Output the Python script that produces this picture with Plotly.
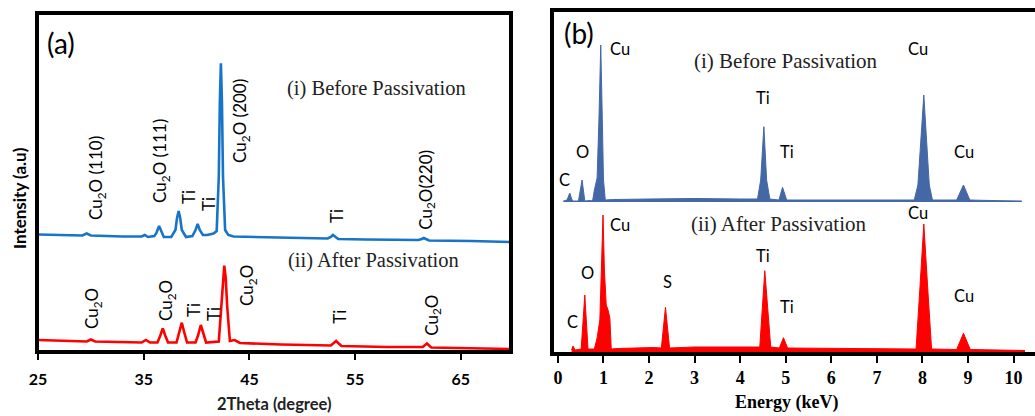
import plotly.graph_objects as go

W, H = 1035, 416

# ---------------- Panel (a): XRD ----------------
xrd_theta_before = [25.0, 27.0, 29.2, 29.6, 30.0, 33.0, 34.8, 35.1, 35.4, 36.0, 36.2, 36.45, 36.7, 36.9,
                    37.6, 38.0, 38.15, 38.3, 38.45, 38.6, 39.0, 39.6, 39.9, 40.1, 40.3, 40.6, 41.0, 41.6,
                    41.9, 42.1, 42.2, 42.3, 42.4, 42.5, 42.7, 43.0, 43.5, 45.0, 50.0, 52.4, 52.7, 52.9,
                    53.1, 53.4, 56.0, 61.0, 61.3, 61.5, 61.7, 62.0, 66.0, 69.7]
xrd_int_before = [117.5, 117.0, 116.5, 118.5, 116.5, 115.5, 115.5, 117.0, 115.0, 116.0, 119.0, 126.0, 119.0, 115.0,
                  115.0, 122.0, 134.0, 141.0, 134.0, 122.0, 115.0, 116.0, 122.0, 128.0, 122.0, 117.0, 117.0, 118.5,
                  121.0, 175.0, 250.0, 288.7, 250.0, 175.0, 122.0, 117.0, 115.5, 115.0, 114.0, 113.5, 115.0, 117.0,
                  115.0, 113.0, 112.5, 112.0, 113.0, 114.0, 113.0, 111.5, 111.0, 110.0]

xrd_theta_after = [25.0, 28.0, 29.6, 30.0, 30.4, 34.8, 35.2, 35.6, 36.3, 36.55, 36.8, 37.05, 37.3,
                   38.1, 38.35, 38.6, 38.85, 39.1, 39.9, 40.15, 40.4, 40.65, 40.9, 42.1, 42.35, 42.5,
                   42.62, 42.75, 42.9, 43.15, 43.6, 44.1, 48.0, 52.7, 53.2, 53.7, 58.0, 61.4, 61.8,
                   62.2, 66.0, 69.7]
xrd_int_after = [12.0, 11.0, 10.5, 12.5, 10.5, 9.5, 12.0, 9.5, 9.5, 16.0, 23.7, 16.0, 9.5,
                 9.5, 19.0, 29.3, 19.0, 9.5, 9.5, 17.0, 27.0, 17.0, 9.5, 10.5, 45.0, 75.0,
                 86.3, 75.0, 45.0, 11.0, 12.0, 9.0, 7.5, 6.5, 11.0, 6.0, 5.0, 5.0, 8.5,
                 4.5, 3.5, 3.0]

xrd_ticks = [25, 35, 45, 55, 65]

# peak labels (2theta, intensity position, text)
xrd_labels_before = [
    (30.58, 174, "Cu<sub>2</sub>O (110)"),
    (36.63, 191, "Cu<sub>2</sub>O (111)"),
    (39.18, 155, "Ti"),
    (41.08, 148, "Ti"),
    (44.20, 231, "Cu<sub>2</sub>O (200)"),
    (53.18, 136, "Ti"),
    (61.78, 162, "Cu<sub>2</sub>O(220)"),
]
xrd_labels_after = [
    (30.20, 43, "Cu<sub>2</sub>O"),
    (37.20, 52, "Cu<sub>2</sub>O"),
    (39.66, 42, "Ti"),
    (41.55, 38, "Ti"),
    (44.86, 67, "Cu<sub>2</sub>O"),
    (53.46, 35, "Ti"),
    (62.35, 37, "Cu<sub>2</sub>O"),
]

# ---------------- Panel (b): EDS ----------------
eds_e_before = [0.12, 0.20, 0.26, 0.31, 0.34, 0.45, 0.53, 0.59, 0.70, 0.76, 0.80, 0.86, 0.90, 0.94,
                0.97, 1.00, 1.04, 1.2, 2.0, 3.0, 4.0, 4.38, 4.45, 4.52, 4.58, 4.65, 4.85, 4.93, 5.02,
                5.5, 7.0, 7.82, 7.90, 7.97, 8.03, 8.09, 8.15, 8.22, 8.75, 8.90, 9.04, 9.5, 10.18]
eds_c_before = [1.0, 2.0, 9.0, 2.0, 1.0, 1.0, 22.0, 1.0, 1.5, 1.0, 12.0, 24.0, 82.0, 157.0,
                92.0, 22.0, 2.0, 2.5, 3.0, 3.5, 3.0, 3.0, 22.0, 75.3, 22.0, 3.0, 2.0, 14.7, 2.0,
                2.0, 2.0, 2.0, 17.0, 62.0, 107.0, 62.0, 17.0, 2.0, 2.0, 17.0, 2.0, 1.5, 1.0]

eds_e_after = [0.30, 0.33, 0.38, 0.51, 0.59, 0.66, 0.80, 0.86, 0.92, 0.96, 0.99, 1.02, 1.06, 1.10,
               1.14, 1.17, 1.3, 2.1, 2.27, 2.36, 2.45, 3.0, 4.3, 4.43, 4.54, 4.67, 4.86, 4.95, 5.04,
               6.0, 7.75, 7.86, 7.95, 8.03, 8.11, 8.20, 8.75, 8.90, 9.05, 10.25]
eds_c_after = [4.0, 8.0, 4.0, 5.0, 59.0, 5.0, 5.0, 16.0, 34.0, 94.0, 139.0, 84.0, 49.0, 44.0,
               36.0, 5.0, 5.5, 6.5, 6.0, 46.7, 6.0, 7.0, 6.5, 7.0, 83.3, 7.0, 6.0, 16.3, 6.0,
               5.5, 5.0, 5.0, 70.0, 130.0, 70.0, 5.0, 4.5, 20.7, 4.5, 3.5]

eds_ticks = list(range(0, 11))

eds_labels_before = [(0.15, 174, "C"), (0.53, 202, "O"), (1.36, 305, "Cu"), (4.50, 256, "Ti"),
                     (5.03, 202, "Ti"), (7.90, 305, "Cu"), (8.91, 202, "Cu")]
eds_labels_after = [(0.33, 32, "C"), (0.64, 81, "O"), (1.36, 129, "Cu"), (2.41, 72, "S"),
                    (4.50, 98, "Ti"), (5.03, 47, "Ti"), (7.90, 141, "Cu"), (8.91, 58, "Cu")]

BLUE_XRD = "#1874C6"
RED = "#FF0000"
BLUE_EDS = "#4468A6"

fig = go.Figure()
fig.add_trace(go.Scatter(x=xrd_theta_before, y=xrd_int_before, mode="lines",
                         line=dict(color=BLUE_XRD, width=2.6), xaxis="x", yaxis="y", showlegend=False))
fig.add_trace(go.Scatter(x=xrd_theta_after, y=xrd_int_after, mode="lines",
                         line=dict(color=RED, width=2.6), xaxis="x", yaxis="y", showlegend=False))
fig.add_trace(go.Scatter(x=eds_e_after, y=eds_c_after, mode="lines", fill="tozeroy",
                         fillcolor=RED, line=dict(color=RED, width=1), xaxis="x2", yaxis="y2",
                         showlegend=False))
fig.add_trace(go.Scatter(x=eds_e_before, y=eds_c_before, mode="lines", fill="tozeroy",
                         fillcolor=BLUE_EDS, line=dict(color=BLUE_EDS, width=1), xaxis="x2", yaxis="y3",
                         showlegend=False))

def px(x):
    return x / W

def py(y):
    return 1 - y / H

SANS = "Lato"
SERIF = "Liberation Serif"

fig.update_layout(
    width=W, height=H, margin=dict(l=0, r=0, t=0, b=0, autoexpand=False), autosize=False,
    paper_bgcolor="white", plot_bgcolor="white",
    xaxis=dict(domain=[px(37), px(511)], range=[24.9, 69.75], tickvals=xrd_ticks,
               ticks="outside", ticklen=7, tickwidth=2, tickcolor="black",
               showgrid=False, zeroline=False, showline=False, ticklabelstandoff=6,
               tickfont=dict(family=SANS, size=16, color="black", weight="bold"), anchor="y",
               automargin=False),
    yaxis=dict(domain=[py(352), py(13)], range=[0, 339], visible=False, anchor="x"),
    xaxis2=dict(domain=[px(552), 1.0], range=[-0.13, 10.47], tickvals=eds_ticks,
                ticks="outside", ticklen=8, tickwidth=2, tickcolor="black",
                showgrid=False, zeroline=False, showline=False, ticklabelstandoff=-1,
                tickfont=dict(family=SERIF, size=18, color="black", weight="bold"), anchor="y2",
                automargin=False),
    yaxis2=dict(domain=[py(354), py(10)], range=[0, 344], visible=False, anchor="x2"),
    yaxis3=dict(overlaying="y2", range=[-152, 192], visible=False, anchor="x2"),
)

shapes = []
# frame (a)
shapes.append(dict(type="rect", xref="paper", yref="paper", x0=px(37), x1=px(511), y0=py(352), y1=py(13),
                   line=dict(color="black", width=4), layer="above"))
# frame (b): left, top, bottom
for (x0, y0, x1, y1) in [(552, 10, 552, 354), (550, 10, 1035, 10), (550, 354, 1035, 354)]:
    shapes.append(dict(type="line", xref="paper", yref="paper", x0=px(x0), x1=px(x1), y0=py(y0), y1=py(y1),
                       line=dict(color="black", width=4), layer="above"))
fig.update_layout(shapes=shapes)

ann = []
for (x, y, t) in xrd_labels_before + xrd_labels_after:
    ann.append(dict(x=x, y=y, xref="x", yref="y", text=t, showarrow=False, textangle=-90,
                    xanchor="center", yanchor="middle", font=dict(family=SANS, size=17, color="black")))
ann.append(dict(x=57.06, y=264, xref="x", yref="y", text="(i) Before Passivation", showarrow=False,
                xanchor="center", yanchor="middle", font=dict(family=SERIF, size=20.5, color="#222222")))
ann.append(dict(x=56.7, y=92, xref="x", yref="y", text="(ii) After Passivation", showarrow=False,
                xanchor="center", yanchor="middle", font=dict(family=SERIF, size=20.5, color="#222222")))
ann.append(dict(x=27.2, y=309, xref="x", yref="y", text="(a)", showarrow=False,
                xanchor="center", yanchor="middle", font=dict(family=SANS, size=28, color="black")))
ann.append(dict(x=px(274), y=py(404), xref="paper", yref="paper", text="2Theta (degree)", showarrow=False,
                xanchor="center", yanchor="middle",
                font=dict(family=SANS, size=16.5, color="#222222", weight="bold")))
ann.append(dict(x=px(19), y=py(198), xref="paper", yref="paper", text="Intensity (a.u)", showarrow=False,
                xanchor="center", yanchor="middle",
                textangle=-90, font=dict(family=SANS, size=17, color="black", weight="bold")))

for (x, y, t) in eds_labels_before + eds_labels_after:
    ann.append(dict(x=x, y=y, xref="x2", yref="y2", text=t, showarrow=False,
                    xanchor="center", yanchor="middle", font=dict(family=SANS, size=16.5, color="black")))
ann.append(dict(x=5.0, y=293, xref="x2", yref="y2", text="(i) Before Passivation", showarrow=False,
                xanchor="center", yanchor="middle", font=dict(family=SERIF, size=21, color="#222222")))
ann.append(dict(x=4.83, y=130, xref="x2", yref="y2", text="(ii) After Passivation", showarrow=False,
                xanchor="center", yanchor="middle", font=dict(family=SERIF, size=21, color="#222222")))
ann.append(dict(x=0.46, y=321, xref="x2", yref="y2", text="(b)", showarrow=False,
                xanchor="center", yanchor="middle", font=dict(family=SANS, size=28, color="black")))
ann.append(dict(x=px(786), y=py(402), xref="paper", yref="paper", text="Energy (keV)", showarrow=False,
                xanchor="center", yanchor="middle",
                font=dict(family=SERIF, size=18, color="black", weight="bold")))
fig.update_layout(annotations=ann)

fig.write_html("out.html", config={"displayModeBar": False},
               post_script="document.body.style.margin='0px';")
